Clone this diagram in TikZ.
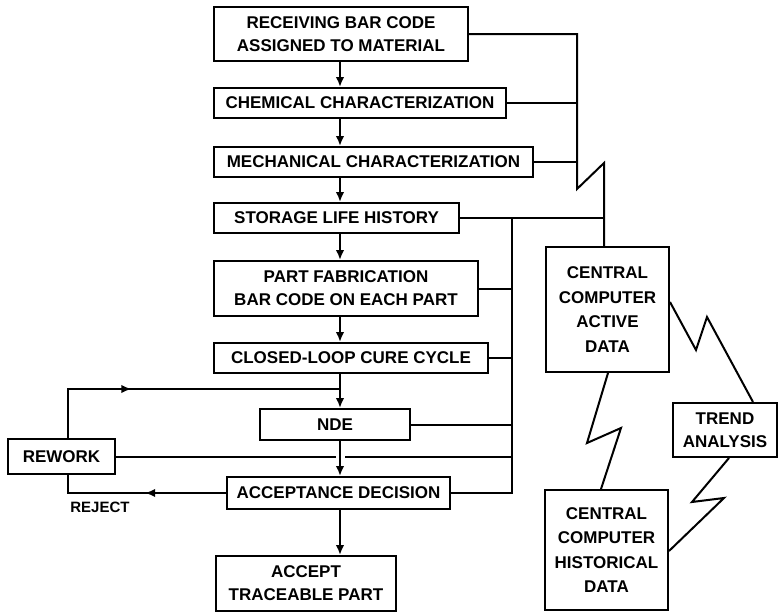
\documentclass[tikz,border=0pt]{standalone}
\usepackage{fontspec}
\setmainfont{Liberation Sans}
\usetikzlibrary{arrows.meta,decorations.markings}
\begin{document}
\begin{tikzpicture}[x=1pt,y=-1pt,line width=2pt,
  box/.style={draw,inner sep=0pt,align=center,font=\fontsize{17}{23}\selectfont\bfseries},
  cbox/.style={box,font=\fontsize{17}{24.5}\selectfont\bfseries},
  >={Latex[length=10pt,width=8.5pt]},
  midarrow/.style={postaction={decorate},decoration={markings,mark=at position #1 with {\arrow{Latex[length=10pt,width=8.5pt]}}}}]
\useasboundingbox[fill=white] (0,0) rectangle (779,613);
% boxes
\node[box,minimum width=254pt,minimum height=54pt] (recv) at (341,34) {RECEIVING BAR CODE\\ASSIGNED TO MATERIAL};
\node[box,minimum width=292pt,minimum height=30pt] (chem) at (360,103) {CHEMICAL CHARACTERIZATION};
\node[box,minimum width=319pt,minimum height=30pt] (mech) at (373.5,162) {MECHANICAL CHARACTERIZATION};
\node[box,minimum width=245pt,minimum height=30pt] (stor) at (336.5,218) {STORAGE LIFE HISTORY};
\node[box,minimum width=264pt,minimum height=55pt] (fab) at (346,288.5) {PART FABRICATION\\BAR CODE ON EACH PART};
\node[box,minimum width=274pt,minimum height=30pt] (cure) at (351,358) {CLOSED-LOOP CURE CYCLE};
\node[box,minimum width=150pt,minimum height=31pt] (nde) at (335,424.5) {NDE};
\node[box,minimum width=107pt,minimum height=35pt] (rework) at (61.5,456.5) {REWORK};
\node[box,minimum width=223pt,minimum height=32pt] (accd) at (338.5,493) {ACCEPTANCE DECISION};
\node[box,minimum width=180pt,minimum height=55pt] (acc) at (306,583.5) {ACCEPT\\TRACEABLE PART};
\node[cbox,minimum width=123pt,minimum height=125pt] (active) at (607.5,309.5) {CENTRAL\\COMPUTER\\ACTIVE\\DATA};
\node[box,minimum width=104pt,minimum height=54pt] (trend) at (725,430) {TREND\\ANALYSIS};
\node[cbox,minimum width=123pt,minimum height=120pt] (hist) at (606.5,550) {CENTRAL\\COMPUTER\\HISTORICAL\\DATA};
\node[font=\fontsize{15}{18}\selectfont\bfseries] (rej) at (100,507) {REJECT};
% reference coordinates
\coordinate (sp) at (340,0);
\coordinate (b1) at (577,189);
\coordinate (z1) at (604,163);
\coordinate (b2) at (512,0);
\coordinate (rw) at (68,389);
% main flow
\draw[->] (recv.south -| sp) -- (chem.north -| sp);
\draw[->] (chem.south -| sp) -- (mech.north -| sp);
\draw[->] (mech.south -| sp) -- (stor.north -| sp);
\draw[->] (stor.south -| sp) -- (fab.north -| sp);
\draw[->] (fab.south -| sp) -- (cure.north -| sp);
\draw[->] (cure.south -| sp) -- (nde.north -| sp);
\draw[->] (accd.south -| sp) -- (acc.north -| sp);
% data bus 1
\draw (recv.east) -| (b1) -- (z1) -- (active.north -| z1);
\draw (chem.east) -- (chem.east -| b1);
\draw (mech.east) -- (mech.east -| b1);
\draw (stor.east) -- (stor.east -| z1);
% data bus 2
\draw (stor.east -| b2) -- (accd.east -| b2) -- (accd.east);
\draw (fab.east) -- (fab.east -| b2);
\draw (cure.east) -- (cure.east -| b2);
\draw (nde.east) -- (nde.east -| b2);
\draw (rework.east) -- (rework.east -| b2);
\draw[->,preaction={draw=white,line width=9pt,-,shorten <=4pt,shorten >=5pt}] (nde.south -| sp) -- (accd.north -| sp);
% rework loop and reject
\draw[midarrow=0.35] (rework.north -| rw) -- (rw) -- (rw -| sp);
\draw[midarrow=0.46] (accd.west) -- (accd.west -| rw) -- (rework.south -| rw);
% lightning links
\draw (active.east |- 0,302) -- (696,350) -- (707,317) -- (trend.north -| 753,0);
\draw (active.south -| 608,0) -- (587,443) -- (621,428) -- (hist.north -| 601,0);
\draw (trend.south -| 729,0) -- (692,502) -- (724,498) -- (hist.east |- 0,551);
\end{tikzpicture}
\end{document}
